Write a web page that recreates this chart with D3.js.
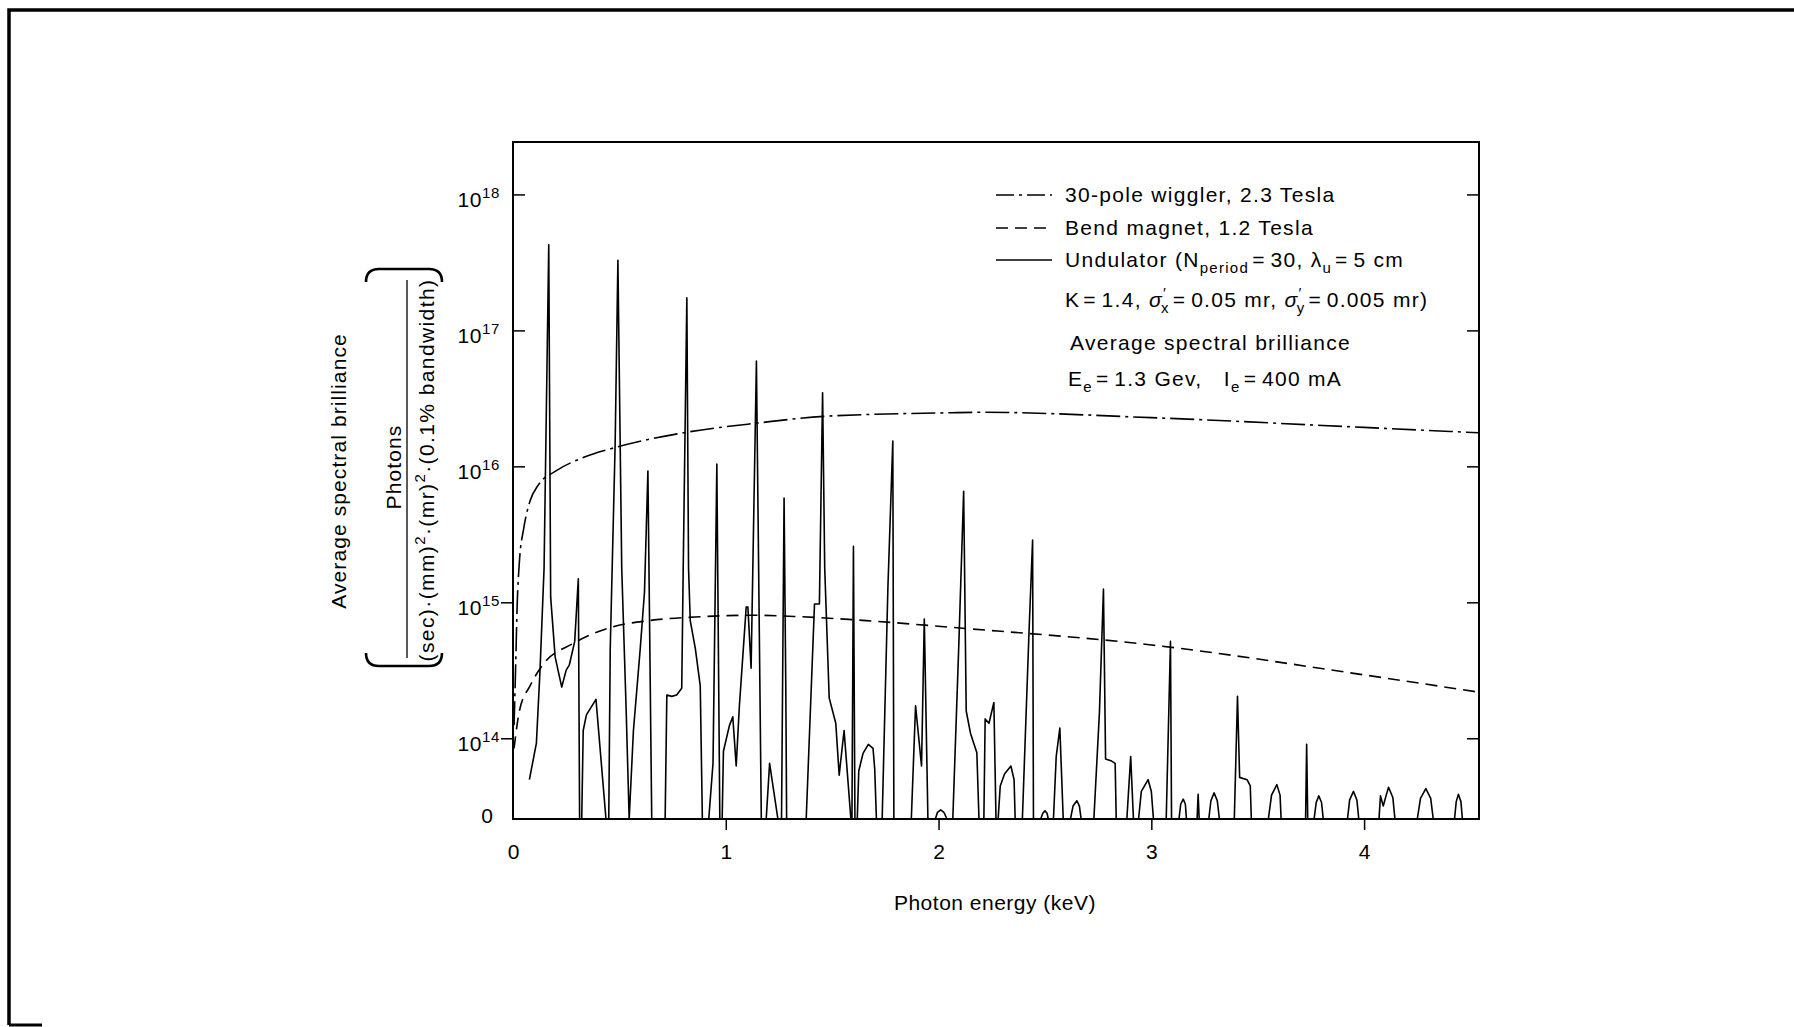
<!DOCTYPE html>
<html>
<head>
<meta charset="utf-8">
<script src="https://cdn.jsdelivr.net/npm/d3@7"></script>
<style>
body { margin: 0; background: #fff; }
text { white-space: pre; }
</style>
</head>
<body>
<div id="chart"></div>
<script>
// [photon energy keV, brilliance]; 0 = on the "0" floor
var wiggler = [
  [0.005, 1.26e14], [0.012, 3.2e14], [0.02, 1.0e15], [0.03, 2.0e15], [0.05, 3.5e15],
  [0.08, 5.6e15], [0.12, 7.4e15], [0.2, 9.3e15], [0.33, 1.17e16], [0.49, 1.4e16],
  [0.82, 1.8e16], [1.15, 2.1e16], [1.46, 2.35e16], [2.06, 2.5e16], [2.2, 2.52e16],
  [3.0, 2.3e16], [4.0, 1.95e16], [4.54, 1.78e16]
];
var bend = [
  [0.005, 8.5e13], [0.03, 1.6e14], [0.08, 2.45e14], [0.14, 3.5e14], [0.28, 5.0e14],
  [0.46, 6.6e14], [0.64, 7.4e14], [0.88, 7.9e14], [1.12, 8.1e14], [1.35, 7.9e14],
  [1.66, 7.4e14], [2.06, 6.6e14], [3.0, 4.9e14], [4.0, 2.95e14], [4.54, 2.2e14]
];
var undulator = [
  [0.077, 5.0e13], [0.11, 9.3e13], [0.127, 3.2e14], [0.146, 1.8e15], [0.168, 4.3e17],
  [0.177, 1.1e15], [0.198, 4.0e14], [0.229, 2.4e14], [0.25, 3.2e14], [0.265, 3.5e14],
  [0.29, 5.2e14], [0.307, 1.5e15], [0.313, 0],
  [0.323, 0], [0.33, 1.15e14], [0.345, 1.5e14], [0.39, 1.95e14], [0.437, 0],
  [0.45, 0], [0.457, 4.6e14], [0.48, 1.45e16], [0.493, 3.3e17], [0.511, 1.8e15], [0.532, 1.6e14], [0.546, 0],
  [0.566, 1.15e14], [0.598, 4.6e14], [0.618, 1.2e15], [0.634, 9.3e15], [0.652, 0],
  [0.715, 0], [0.723, 2.1e14], [0.746, 2.05e14], [0.769, 2.1e14], [0.793, 2.35e14], [0.80, 1.8e15],
  [0.817, 1.75e17], [0.825, 1.8e15], [0.833, 7.4e14], [0.857, 4.6e14], [0.88, 2.45e14], [0.89, 0],
  [0.92, 0], [0.94, 6.6e13], [0.958, 1.05e16], [0.972, 0],
  [0.983, 0], [0.989, 8.1e13], [1.017, 1.25e14], [1.033, 1.45e14], [1.049, 6.3e13], [1.064, 1.75e14],
  [1.096, 9.3e14], [1.104, 9.3e14], [1.119, 3.3e14], [1.144, 6.0e16], [1.167, 0],
  [1.19, 0], [1.206, 6.6e13], [1.245, 0],
  [1.262, 0], [1.267, 2.45e14], [1.274, 5.9e15], [1.282, 2.45e14], [1.286, 0],
  [1.378, 0], [1.417, 9.8e14], [1.44, 9.8e14], [1.455, 3.5e16], [1.465, 1.8e15], [1.486, 2.0e14],
  [1.517, 1.3e14], [1.533, 5.4e13], [1.556, 1.15e14], [1.588, 0],
  [1.593, 0], [1.6, 2.6e15], [1.607, 0],
  [1.618, 0], [1.625, 5.8e13], [1.645, 7.8e13], [1.67, 9.1e13], [1.692, 8.5e13], [1.70, 6.0e13], [1.708, 0],
  [1.735, 0], [1.762, 1.3e15], [1.785, 1.55e16], [1.79, 0],
  [1.872, 0], [1.892, 1.75e14], [1.92, 6.3e13], [1.933, 7.6e14], [1.95, 0],
  [1.985, 0], [1.995, 2.88e13], [2.01, 3.0e13], [2.025, 2.88e13], [2.04, 0],
  [2.067, 0], [2.095, 4.8e14], [2.118, 6.6e15], [2.13, 1.6e14], [2.15, 1.1e14], [2.18, 7.9e13], [2.19, 0],
  [2.213, 0], [2.219, 1.4e14], [2.237, 1.3e14], [2.26, 1.85e14], [2.27, 0],
  [2.28, 0], [2.29, 4.5e13], [2.31, 5.5e13], [2.34, 6.3e13], [2.355, 5.0e13], [2.36, 0],
  [2.394, 0], [2.425, 6.0e14], [2.442, 2.9e15], [2.446, 0],
  [2.48, 0], [2.49, 2.83e13], [2.5, 2.95e13], [2.51, 2.83e13], [2.516, 0],
  [2.54, 0], [2.553, 7.4e13], [2.57, 1.2e14], [2.586, 0],
  [2.62, 0], [2.632, 3.2e13], [2.65, 3.5e13], [2.662, 3.2e13], [2.67, 0],
  [2.73, 0], [2.756, 1.55e14], [2.775, 1.26e15], [2.785, 7.1e13], [2.81, 6.9e13], [2.83, 6.6e13], [2.835, 0],
  [2.885, 0], [2.903, 7.4e13], [2.916, 0],
  [2.94, 0], [2.953, 4.1e13], [2.985, 5.0e13], [3.0, 4.1e13], [3.01, 0],
  [3.07, 0], [3.09, 5.2e14], [3.095, 0],
  [3.13, 0], [3.138, 3.3e13], [3.15, 3.6e13], [3.16, 3.3e13], [3.165, 0],
  [3.215, 0], [3.22, 3.9e13], [3.225, 0],
  [3.27, 0], [3.28, 3.5e13], [3.295, 4.0e13], [3.31, 3.5e13], [3.32, 0],
  [3.39, 0], [3.405, 2.05e14], [3.415, 5.2e13], [3.45, 5.0e13], [3.465, 4.5e13], [3.47, 0],
  [3.55, 0], [3.565, 3.85e13], [3.59, 4.6e13], [3.605, 3.85e13], [3.61, 0],
  [3.725, 0], [3.73, 9.1e13], [3.735, 0],
  [3.765, 0], [3.775, 3.4e13], [3.787, 3.8e13], [3.8, 3.4e13], [3.808, 0],
  [3.922, 0], [3.932, 3.55e13], [3.95, 4.1e13], [3.966, 3.55e13], [3.975, 0],
  [4.07, 0], [4.077, 3.8e13], [4.09, 3.2e13], [4.105, 3.9e13], [4.115, 4.4e13], [4.135, 3.7e13], [4.145, 0],
  [4.25, 0], [4.265, 3.65e13], [4.29, 4.3e13], [4.313, 3.65e13], [4.325, 0],
  [4.425, 0], [4.433, 3.45e13], [4.443, 3.9e13], [4.455, 3.45e13], [4.462, 0]
];

var xTicks = [0, 1, 2, 3, 4];
var yTickExps = [14, 15, 16, 17, 18];
var xTitle = "Photon energy (keV)";
var yTitle = "Average spectral brilliance";
var yUnitTop = [{ t: "Photons" }];
var yUnitBottom = [{ t: "(sec)·(mm)" }, { t: "2", sup: 1 }, { t: "·(mr)" }, { t: "2", sup: 1 }, { t: "·(0.1% bandwidth)" }];
var legendRows = [
  [{ t: "30-pole wiggler, 2.3 Tesla" }],
  [{ t: "Bend magnet, 1.2 Tesla" }],
  [{ t: "Undulator (N" }, { t: "period", sub: 1 }, { t: "=30, λ" }, { t: "u", sub: 1 }, { t: "=5 cm" }],
  [{ t: "K=1.4, " }, { t: "σ", it: 1 }, { t: "′", sup: 1 }, { t: "x", sub: 1, dx: -6 }, { t: "=0.05 mr, " },
   { t: "σ", it: 1 }, { t: "′", sup: 1 }, { t: "y", sub: 1, dx: -6 }, { t: "=0.005 mr)" }],
  [{ t: "Average spectral brilliance" }],
  [{ t: "E" }, { t: "e", sub: 1 }, { t: "=1.3 Gev,   I" }, { t: "e", sub: 1 }, { t: "=400 mA" }]
];

var W = 1794, H = 1027;
var plot = { left: 513, right: 1479, top: 142, bottom: 819 };

var svg = d3.select("#chart").append("svg")
  .attr("width", W).attr("height", H)
  .style("font-family", '"Liberation Sans", Arial, Helvetica, sans-serif')
  .style("font-size", "21px");

// scanned page border
svg.append("path")
  .attr("d", "M9,1025 L9,10 L1794,10")
  .attr("fill", "none").attr("stroke", "#000").attr("stroke-width", 3.5);
svg.append("path")
  .attr("d", "M9,1025 L42,1025")
  .attr("fill", "none").attr("stroke", "#000").attr("stroke-width", 3);

var x = d3.scaleLinear().domain([0, 4.54]).range([plot.left, plot.right]);
var y = d3.scaleLog().domain([2.57e13, 2.45e18]).range([plot.bottom, plot.top]);

// text built from parts; "=" gets extra room like the wide equals of the original typesetting
function richText(g, px, py, parts, wideEq) {
  var t = g.append("text").attr("x", px).attr("y", py);
  var cur = 0;
  parts.forEach(function (p) {
    var off = p.sub ? 6 : p.sup ? -9 : 0;
    var pieces = wideEq ? p.t.split(/(=)/).filter(function (s) { return s.length; }) : [p.t];
    pieces.forEach(function (piece, k) {
      var s = t.append("tspan").text(piece);
      if (k === 0) {
        s.attr("dy", off - cur);
        cur = off;
        if (p.dx) s.attr("dx", p.dx);
      }
      if (p.sub || p.sup) s.style("font-size", "15px");
      if (p.it) s.style("font-style", "italic");
      if (piece === "=") s.attr("dx", 3).style("letter-spacing", "6px");
    });
  });
  return t;
}

svg.append("clipPath").attr("id", "clip")
  .append("rect")
  .attr("x", plot.left).attr("y", plot.top)
  .attr("width", plot.right - plot.left).attr("height", plot.bottom - plot.top);

function yPos(d) { return d[1] > 0 ? y(d[1]) : plot.bottom; }

var series = [
  { data: wiggler, dash: "24,5,3,5", legendDash: "18,5,3,5", curve: d3.curveMonotoneX },
  { data: bend, dash: "12,7", legendDash: "12,7", curve: d3.curveMonotoneX },
  { data: undulator, dash: null, legendDash: null, curve: d3.curveLinear }
];

var lines = svg.append("g").attr("clip-path", "url(#clip)");
series.forEach(function (s) {
  var line = d3.line()
    .x(function (d) { return x(d[0]); })
    .y(yPos)
    .curve(s.curve);
  lines.append("path")
    .datum(s.data)
    .attr("fill", "none")
    .attr("stroke", "#000")
    .attr("stroke-width", 1.6)
    .attr("stroke-linejoin", "round")
    .attr("stroke-dasharray", s.dash)
    .attr("d", line);
});

// frame
svg.append("rect")
  .attr("x", plot.left).attr("y", plot.top)
  .attr("width", plot.right - plot.left).attr("height", plot.bottom - plot.top)
  .attr("fill", "none").attr("stroke", "#000").attr("stroke-width", 2);

// x axis
var xAxis = svg.append("g")
  .attr("transform", "translate(0," + plot.bottom + ")")
  .call(d3.axisBottom(x).tickValues(xTicks).tickFormat(d3.format("d")).tickSize(11).tickPadding(14));
xAxis.select(".domain").remove();
xAxis.selectAll(".tick line").attr("stroke-width", 1.5)
  .attr("opacity", function (d) { return d === 0 ? 0 : 1; });
xAxis.selectAll(".tick text")
  .style("font-size", "21px")
  .style("font-family", '"Liberation Sans", Arial, Helvetica, sans-serif');

// y ticks: top three point inward, lower two outward (as in the figure)
yTickExps.forEach(function (e) {
  var yy = y(Math.pow(10, e));
  var inward = e >= 16;
  svg.append("line")
    .attr("x1", inward ? plot.left : plot.left - 12).attr("x2", inward ? plot.left + 12 : plot.left)
    .attr("y1", yy).attr("y2", yy)
    .attr("stroke", "#000").attr("stroke-width", 1.5);
  svg.append("line")
    .attr("x1", plot.right - 12).attr("x2", plot.right)
    .attr("y1", yy).attr("y2", yy)
    .attr("stroke", "#000").attr("stroke-width", 1.5);
  richText(svg, 500, yy + 12, [{ t: "10" }, { t: String(e), sup: 1 }])
    .attr("text-anchor", "end")
    .style("letter-spacing", "0.6px");
});
svg.append("text")
  .attr("x", 493).attr("y", plot.bottom + 4)
  .attr("text-anchor", "end")
  .text("0");

// axis titles
svg.append("text")
  .attr("x", 995).attr("y", 910)
  .attr("text-anchor", "middle")
  .style("letter-spacing", "0.5px")
  .text(xTitle);

svg.append("text")
  .attr("transform", "translate(346,471) rotate(-90)")
  .attr("text-anchor", "middle")
  .style("letter-spacing", "1.1px")
  .text(yTitle);

var num = svg.append("g").attr("transform", "translate(401,467) rotate(-90)");
richText(num, 0, 0, yUnitTop).attr("text-anchor", "middle").style("letter-spacing", "1.1px");
svg.append("line")
  .attr("x1", 407).attr("x2", 407).attr("y1", 280).attr("y2", 658)
  .attr("stroke", "#000").attr("stroke-width", 1.3);
var den = svg.append("g").attr("transform", "translate(434,470) rotate(-90)");
richText(den, 0, 0, yUnitBottom).attr("text-anchor", "middle").style("letter-spacing", "1.4px");

svg.append("path")
  .attr("d", "M366,282 Q366,269 379,269 L429,269 Q442,269 442,282")
  .attr("fill", "none").attr("stroke", "#000").attr("stroke-width", 2.6);
svg.append("path")
  .attr("d", "M366,653 Q366,666 379,666 L429,666 Q442,666 442,653")
  .attr("fill", "none").attr("stroke", "#000").attr("stroke-width", 2.6);

// legend / annotation
var legendY = [202, 235, 267, 307, 350, 386];
var legendX = [1065, 1065, 1065, 1065, 1070, 1068];
var leg = svg.append("g");
legendRows.forEach(function (row, i) {
  if (i < 3) {
    leg.append("line")
      .attr("x1", 996).attr("x2", 1052)
      .attr("y1", legendY[i] - 7).attr("y2", legendY[i] - 7)
      .attr("stroke", "#000").attr("stroke-width", 1.6)
      .attr("stroke-dasharray", series[i].legendDash);
  }
  richText(leg, legendX[i], legendY[i], row, true).style("letter-spacing", "1.3px");
});
</script>
</body>
</html>
